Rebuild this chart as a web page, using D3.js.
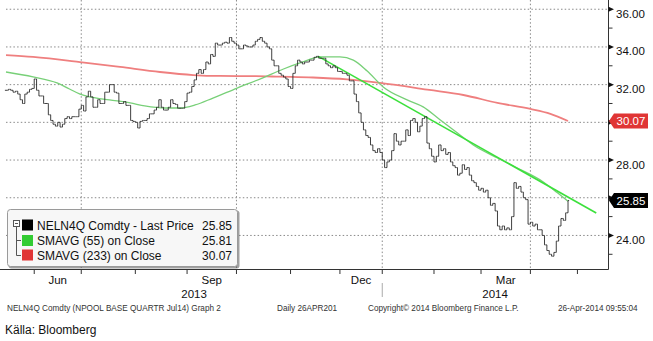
<!DOCTYPE html>
<html><head><meta charset="utf-8">
<script src="https://cdn.jsdelivr.net/npm/d3@7"></script>
<style>
html,body{margin:0;padding:0;background:#fff;}
svg{display:block;}
</style></head>
<body><svg id="c" width="653" height="341"></svg>
<script>
// ---- data ----
const closes = [
31.7,31.75,31.7,31.6,31.65, 31.5,31.2,31.0,31.5,31.6,
31.75,31.8,32.3,31.7,31.4, 31.4,31.0,31.0,30.4,30.1,
29.9,29.8,30.0,29.75,29.9, 30.2,30.3,30.2,30.3,30.3,
30.3,30.7,30.9,30.6,31.35, 31.65,31.35,30.8,30.8,31.2,
31.0,31.0,31.6,31.6,32.0, 32.0,31.6,31.55,31.0,31.0,
31.1,30.9,30.9,30.1,30.05, 30.0,29.7,30.05,30.1,30.1,
30.2,30.45,30.45,30.65,30.8, 31.2,30.8,30.65,30.65,30.8,
31.2,31.0,30.95,30.75,30.75, 30.75,31.1,31.55,31.6,31.9,
32.25,32.6,32.8,32.6,32.8, 33.2,33.1,33.6,33.5,34.2,
34.1,34.1,34.2,34.25,34.2, 34.5,34.3,34.2,34.1,33.9,
33.9,34.1,34.05,34.0,34.0, 34.1,34.3,34.4,34.5,34.3,
34.2,34.0,33.9,33.3,33.0, 33.0,32.6,32.5,32.4,32.3,
31.9,31.8,32.6,33.0,33.3, 33.2,33.1,33.2,33.2,33.3,
33.3,33.45,33.5,33.4,33.4, 33.4,33.1,33.0,32.9,33.0,
32.9,32.7,32.7,32.6,32.6, 32.5,32.2,32.2,31.5,31.1,
30.5,30.0,29.6,29.3,29.2, 28.8,28.5,28.4,28.6,28.4,
28.0,27.6,27.9,28.0,28.5, 29.4,29.0,28.8,29.0,29.0,
29.6,29.3,30.1,30.2,30.0, 29.5,29.8,30.2,30.3,28.9,
28.6,28.2,27.9,28.2,28.8, 28.5,28.6,28.3,28.4,27.9,
27.7,27.6,27.2,27.3,27.75, 27.5,27.6,27.2,26.9,26.8,
26.6,26.4,26.5,26.3,26.4, 26.0,25.6,25.7,25.3,24.5,
24.3,24.5,24.3,24.4,24.3, 25.0,26.8,26.5,26.6,26.3,
26.0,25.9,24.6,24.7,24.5, 24.6,24.3,24.3,24.0,23.5,
23.2,23.0,22.9,23.1,23.7, 24.5,24.9,24.8,25.2,25.85
];
const sma55Days   = [0,11.5,21.7,27,31.5,35.7,44,52.8,59,67.7,74,80.4,88,98.3,109,118,125,133.6,142,147.7,153.6,160.4,170.6,177.4,184.7,192,198.7,209,216.6,228.5,234.5,239];
const sma55Values = [32.67,32.41,32.09,31.77,31.5,31.35,31.19,31.03,30.87,30.76,30.76,30.92,31.29,31.82,32.35,32.83,33.15,33.47,33.47,33.3,32.72,31.88,31.19,30.82,30.12,29.43,28.8,28.11,27.63,26.84,26.26,25.81];
const sma233Days   = [0,11.5,31.5,48.5,65.5,79.6,91,106,116.6,130.6,145,159,180,194.5,209,223,231.5,239];
const sma233Values = [33.57,33.47,33.2,32.94,32.67,32.51,32.46,32.45,32.42,32.38,32.28,32.09,31.72,31.45,31.03,30.71,30.45,30.07];
const trendDays   = [132.8,251];
const trendValues = [33.5,25.19];

const monthStarts = [12,32,55,77,98,121,142,160,182,202,223,243];
const quarterStarts = [32,98,160,223];
const monthLabels = ['Jun','Sep','Dec','Mar'];
const monthLabelSpans = [[12,32],[77,98],[142,160],[202,223]];
const yearLabels = ['2013','2014'];
const yearSpans = [[0,160],[160,256]];
const yTicksMajor = [24,26,28,30,32,34,36];
const yTickLabels = ['24.00','','28.00','','32.00','34.00','36.00'];
const yTicksMinor = [23,25,27,29,31,33,35];
const legendNames = ['NELN4Q Comdty - Last Price','SMAVG (55) on Close','SMAVG (233) on Close'];
const legendValues = ['25.85','25.81','30.07'];
const legendColors = ['#000000','#33cc33','#e03535'];
const lastPrice = 25.85, lastSma233 = 30.07;

// ---- chart ----
const svg = d3.select('#c');
const x = d3.scaleLinear().domain([0,256]).range([6,608]);
const y = d3.scaleLinear().domain([22.22,36.49]).range([269,0]);
const F = 'Liberation Sans, Arial, sans-serif';

// gridlines
svg.append('g').selectAll('line').data(yTicksMajor).join('line')
  .attr('x1',6).attr('x2',608).attr('y1',d=>y(d)).attr('y2',d=>y(d))
  .attr('stroke','#8a8a8a').attr('stroke-width',1).attr('stroke-dasharray','1.5,2.2');
svg.append('g').selectAll('line').data(quarterStarts).join('line')
  .attr('x1',d=>x(d)).attr('x2',d=>x(d)).attr('y1',0).attr('y2',269)
  .attr('stroke','#8a8a8a').attr('stroke-width',1).attr('stroke-dasharray','1.5,2.2');

// SMA 233
const line = d3.line().curve(d3.curveMonotoneX);
svg.append('path').attr('d', line(sma233Days.map((d,i)=>[x(d),y(sma233Values[i])])))
  .attr('fill','none').attr('stroke','#ef7f7f').attr('stroke-width',1.8);
// SMA 55
svg.append('path').attr('d', line(sma55Days.map((d,i)=>[x(d),y(sma55Values[i])])))
  .attr('fill','none').attr('stroke','#78d078').attr('stroke-width',1.3);
// trend line
svg.append('path').attr('d', d3.line()(trendDays.map((d,i)=>[x(d),y(trendValues[i])])))
  .attr('fill','none').attr('stroke','#3ce03c').attr('stroke-width',1.6);

// price bars (open = previous close)
const bars = svg.append('g').attr('stroke','#2a2a2a').attr('stroke-width',0.9).attr('fill','none');
closes.forEach((c,i)=>{
  const o = i>0 ? closes[i-1] : c;
  const xi = x(i);
  const p = `M${xi-1.1},${y(o)}H${xi}V${y(c)}H${xi+1.1}`;
  bars.append('path').attr('d',p);
});

// axes frame
svg.append('line').attr('x1',0).attr('x2',608.5).attr('y1',269.5).attr('y2',269.5).attr('stroke','#333');
svg.append('line').attr('x1',608.5).attr('x2',608.5).attr('y1',0).attr('y2',269.5).attr('stroke','#333');

// x ticks
svg.append('g').selectAll('line').data(monthStarts).join('line')
  .attr('x1',d=>x(d)).attr('x2',d=>x(d)).attr('y1',270).attr('y2',274).attr('stroke','#333');
svg.append('g').selectAll('text').data(monthLabels).join('text')
  .attr('x',(d,i)=>x((monthLabelSpans[i][0]+monthLabelSpans[i][1])/2)).attr('y',284)
  .attr('text-anchor','middle').attr('font-family',F).attr('font-size',11.5).attr('fill','#111').text(d=>d);
svg.append('g').selectAll('text').data(yearLabels).join('text')
  .attr('x',(d,i)=>x((yearSpans[i][0]+yearSpans[i][1])/2)).attr('y',298)
  .attr('text-anchor','middle').attr('font-family',F).attr('font-size',11.5).attr('fill','#111').text(d=>d);
svg.append('line').attr('x1',x(160)).attr('x2',x(160)).attr('y1',283).attr('y2',297).attr('stroke','#aaa');

// y ticks
svg.append('g').selectAll('path').data(yTicksMajor).join('path')
  .attr('d',d=>`M608.5,${y(d)-2.5}L614,${y(d)}L608.5,${y(d)+2.5}Z`).attr('fill','#111');
svg.append('g').selectAll('line').data(yTicksMinor).join('line')
  .attr('x1',608.5).attr('x2',612.5).attr('y1',d=>y(d)).attr('y2',d=>y(d)).attr('stroke','#333');
svg.append('g').selectAll('text').data(yTicksMajor).join('text')
  .attr('x',616).attr('y',d=>y(d)+8.5).attr('font-family',F).attr('font-size',11.5).attr('fill','#111')
  .text((d,i)=>yTickLabels[i]);

// highlighted value labels
function valueTag(v, color){
  const yy = y(v);
  svg.append('path').attr('d',`M609,${yy}L614,${yy-7.5}H648V${yy+7.5}H614Z`).attr('fill',color);
  svg.append('text').attr('x',631).attr('y',yy+4.2).attr('text-anchor','middle')
    .attr('font-family',F).attr('font-size',11.5).attr('fill','#fff').text(v.toFixed(2));
}
valueTag(lastSma233,'#e03535');
valueTag(lastPrice,'#000');

// legend
const lg = svg.append('g');
lg.append('rect').attr('x',8.5).attr('y',210.5).attr('width',231).attr('height',58).attr('rx',3)
  .attr('fill','#444').attr('opacity',0.5);
lg.append('rect').attr('x',7.5).attr('y',209.5).attr('width',230).attr('height',57).attr('rx',3)
  .attr('fill','#f7f7f7').attr('stroke','#9a9a9a');
const rowY = [225,240.5,255];
lg.append('rect').attr('x',13.5).attr('y',220.5).attr('width',6).attr('height',6).attr('fill','#fff').attr('stroke','#555');
lg.append('line').attr('x1',15).attr('x2',18).attr('y1',223.5).attr('y2',223.5).attr('stroke','#555');
lg.append('path').attr('d','M16.5,227V255.5H21M16.5,240.5H21').attr('fill','none').attr('stroke','#555');
legendNames.forEach((n,i)=>{
  lg.append('rect').attr('x',22).attr('y',rowY[i]-5.5).attr('width',11).attr('height',11).attr('fill',legendColors[i]);
  lg.append('text').attr('x',37).attr('y',rowY[i]+4.5).attr('font-family',F).attr('font-size',12).attr('fill','#111').text(n);
  lg.append('text').attr('x',232).attr('y',rowY[i]+4.5).attr('text-anchor','end').attr('font-family',F).attr('font-size',12).attr('fill','#111').text(legendValues[i]);
});

// footer
[['NELN4Q Comdty (NPOOL BASE QUARTR Jul14) Graph 2',7],['Daily 26APR201',277],['Copyright\u00a9 2014 Bloomberg Finance L.P.',368],['26-Apr-2014 09:55:04',558]]
  .forEach(([t,xx])=>svg.append('text').attr('x',xx).attr('y',311).attr('font-family',F).attr('font-size',8.2).attr('fill','#333').text(t));
svg.append('text').attr('x',5).attr('y',334).attr('font-family',F).attr('font-size',12).attr('fill','#111').text('Källa: Bloomberg');
</script></body></html>
